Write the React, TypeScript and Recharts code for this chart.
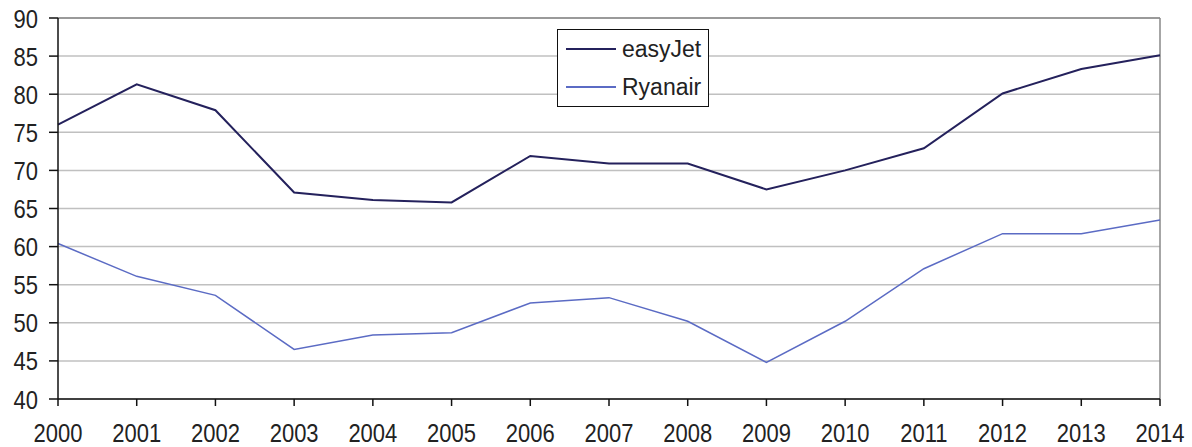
import { LineChart, Line, XAxis, YAxis, CartesianGrid, ReferenceLine } from 'recharts';

const years = ['2000', '2001', '2002', '2003', '2004', '2005', '2006', '2007', '2008', '2009', '2010', '2011', '2012', '2013', '2014'];
const easyJet = [76, 81.3, 77.9, 67.1, 66.1, 65.8, 71.9, 70.9, 70.9, 67.5, 70, 72.9, 80.1, 83.3, 85.1];
const ryanair = [60.4, 56.1, 53.6, 46.5, 48.4, 48.7, 52.6, 53.3, 50.2, 44.8, 50.2, 57.1, 61.7, 61.7, 63.5];
const yTicks = [40, 45, 50, 55, 60, 65, 70, 75, 80, 85, 90];

const data = years.map((year, i) => ({ year, easyJet: easyJet[i], Ryanair: ryanair[i] }));

const EASY = '#24215c';
const RYAN = '#5b6bc4';
const FONT = '"Liberation Sans", Arial, sans-serif';

// labels in the original look a bit squashed horizontally, so stretch them vertically
const XTick = ({ x, y, payload }: any) => (
  <g transform={`translate(${x},${y + 36}) scale(1,1.2)`}>
    <text x={0} y={0} textAnchor="middle" fontSize={22} fontFamily={FONT} fill="#222">{payload.value}</text>
  </g>
);

const YTick = ({ x, y, payload }: any) => (
  <g transform={`translate(${x},${y + 9.5}) scale(1,1.2)`}>
    <text x={0} y={0} textAnchor="end" fontSize={22} fontFamily={FONT} fill="#222">{payload.value}</text>
  </g>
);

const legendItems = [
  { name: 'easyJet', color: EASY, w: 2 },
  { name: 'Ryanair', color: RYAN, w: 1.5 },
];

export default function App() {
  return (
    <div style={{ position: 'absolute', left: 0, top: 0, width: 1192, height: 447, background: '#fff' }}>
      <LineChart width={1192} height={447} data={data} margin={{ top: 18, right: 32, left: 0, bottom: 0 }}>
        <CartesianGrid vertical={false} stroke="#c0c0c0" strokeWidth={1.5} />
        <XAxis
          dataKey="year"
          height={48}
          stroke="#111"
          strokeWidth={1.5}
          tickSize={7}
          tickMargin={0}
          tick={<XTick />}
          interval={0}
        />
        <YAxis
          width={58}
          domain={[40, 90]}
          ticks={yTicks}
          stroke="#111"
          strokeWidth={1.5}
          tickSize={9}
          tickMargin={11}
          tick={<YTick />}
          interval={0}
        />
        <ReferenceLine x="2014" stroke="#888" strokeWidth={1.5} />
        <ReferenceLine y={90} stroke="#888" strokeWidth={1.5} />
        <Line type="linear" dataKey="easyJet" stroke={EASY} strokeWidth={2} dot={false} isAnimationActive={false} />
        <Line type="linear" dataKey="Ryanair" stroke={RYAN} strokeWidth={1.5} dot={false} isAnimationActive={false} />
      </LineChart>
      <div style={{ position: 'absolute', left: 557, top: 29, width: 150, height: 76, border: '1.5px solid #111', background: '#fff', fontFamily: FONT, fontSize: 23, color: '#222' }}>
        {legendItems.map((it) => (
          <div key={it.name} style={{ display: 'flex', alignItems: 'center', height: 38 }}>
            <div style={{ width: 50, height: it.w, background: it.color, marginLeft: 8, marginRight: 6 }} />
            <span>{it.name}</span>
          </div>
        ))}
      </div>
    </div>
  );
}
